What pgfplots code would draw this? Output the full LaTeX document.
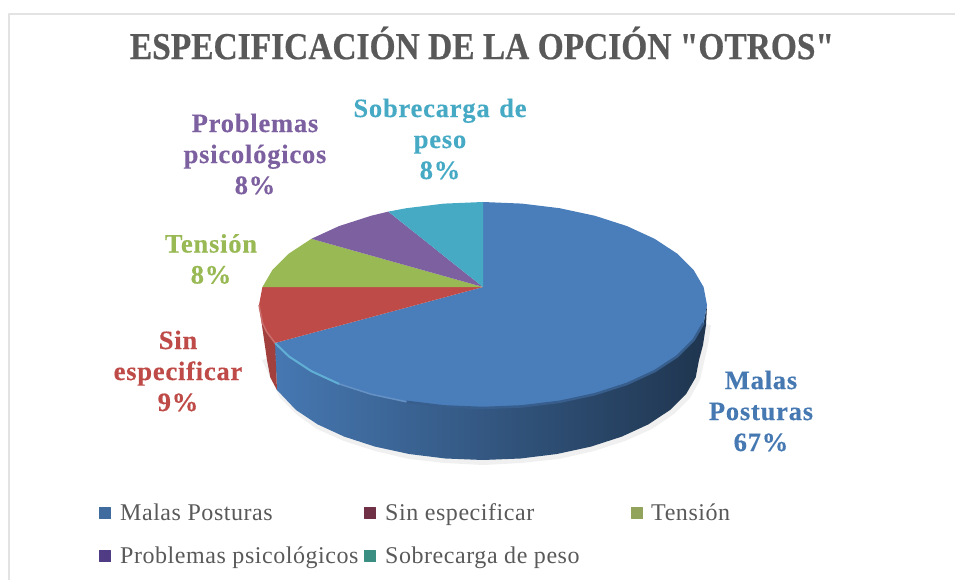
\documentclass[border=0pt]{standalone}
\usepackage{graphicx}
\usepackage{fontspec}
\setmainfont{Liberation Serif}
\newfontfamily\titlef[FakeBold=0.6]{Liberation Serif Bold}
\newfontfamily\labelf[LetterSpace=3,FakeBold=0.4,WordSpace=1.3]{Liberation Serif Bold}
\newfontfamily\legf[LetterSpace=2.3]{Liberation Serif}
\usepackage{pgfplots}
\pgfplotsset{compat=1.18}
\definecolor{cblue}{HTML}{4A7EBB}
\definecolor{cred}{HTML}{BE4B48}
\definecolor{cgreen}{HTML}{98B954}
\definecolor{cpurple}{HTML}{7D60A0}
\definecolor{cteal}{HTML}{46AAC5}
\begin{document}
\begin{tikzpicture}
\begin{axis}[
  width=955pt,height=580pt,scale only axis,
  xmin=0,xmax=955,ymin=0,ymax=580,y dir=reverse,
  axis line style={draw=none},ticks=none,clip=true,
  every axis plot/.append style={line join=round},
]
% frame
\addplot[color=black!11,line width=2pt,forget plot] coordinates {(9,580)(9,14)(955,14)};
% soft shadow
\addplot[fill=black!6,draw=none,forget plot] coordinates {(711,325)(708,345)(700,380)(690,398)(674,414)(652,429)(625,441)(594,451)(559,459)(521,463)(483,465)(445,463)(409,459)(375,451)(344,441)(317,429)(296,414)(280,398)(262,360)(483,300)} --cycle;
% side, blue
\addplot[left color=cblue!95!black,middle color=cblue!62!black,right color=cblue!42!black,shading angle=90,draw=none,forget plot] coordinates {
(707,305)(706,325)(703,345)(699,360)(695.7,377.4)(686,394.2)(670,410)(648.5,424.3)(621.8,436.6)(591,446.6)(556.9,454)(520.5,458.5)(483,460)(445.5,458.5)(409.1,454)(375,446.6)(344.2,436.6)(317.5,424.3)(296,410)(277,390)(275,343)
(289,356.5)(311.4,371.2)(339,383.9)(371,394.2)(406.4,401.8)(444.1,406.4)(483,408)(521.9,406.4)(559.6,401.8)(595,394.2)(627,383.9)(654.6,371.2)(677,356.5)(693.5,340.2)(703.6,322.9)} --cycle;
% side, red
\addplot[fill=cred!85!black,draw=none,forget plot] coordinates {
(259,305)(262.4,322.9)(266.6,331.7)(275,343)(277,390)(270.3,377.4)(267,360)} --cycle;
% top face
\addplot[fill=cblue,draw=none,forget plot] coordinates {
(483,287)(483,202)(521.9,203.6)(559.6,208.2)(595,215.8)(627,226.1)(654.6,238.8)(677,253.5)(693.5,269.8)(703.6,287.1)(707,305)(703.6,322.9)(693.5,340.2)(677,356.5)(654.6,371.2)(627,383.9)(595,394.2)(559.6,401.8)(521.9,406.4)(483,408)(444.1,406.4)(406.4,401.8)(371,394.2)(339,383.9)(311.4,371.2)(289,356.5)(275,343)} --cycle;
\addplot[fill=cred,draw=none,forget plot] coordinates {
(483,287)(275,343)(266.6,331.7)(262.4,322.9)(259,305)(262.4,287.1)} --cycle;
\addplot[fill=cgreen,draw=none,forget plot] coordinates {
(483,287)(262.4,287.1)(272.5,269.8)(289,253.5)(311.4,238.8)} --cycle;
\addplot[fill=cpurple,draw=none,forget plot] coordinates {
(483,287)(311.4,238.8)(339,226.1)(371,215.8)(388.3,211.6)} --cycle;
\addplot[fill=cteal,draw=none,forget plot] coordinates {
(483,287)(388.3,211.6)(406.4,208.2)(444.1,203.6)(483,202)} --cycle;
% rim: soft transition from top to side
\addplot[color=cblue!75!black,line width=2.5pt,forget plot] coordinates {(406.4,401.8)(444.1,406.4)(483,408)(521.9,406.4)(559.6,401.8)(595,394.2)(627,383.9)(654.6,371.2)(677,356.5)(693.5,340.2)(703.6,322.9)};
\addplot[color=cblue!85!white,line width=1.5pt,forget plot] coordinates {(339,383.9)(371,394.2)(406.4,401.8)};
\addplot[color=cblue!78!cyan!80!white,line width=2pt,forget plot] coordinates {(275,343)(289,356.5)(311.4,371.2)(339,383.9)};
\addplot[color=cred!80!white,line width=1.5pt,forget plot] coordinates {(259,305)(262.4,322.9)(266.6,331.7)(275,343)};
% legend keys
\addplot[only marks,mark=square*,mark size=5.5pt,color=cblue!85!black,forget plot] coordinates {(105,513)};
\addplot[only marks,mark=square*,mark size=5.5pt,color={rgb,255:red,112;green,48;blue,70},forget plot] coordinates {(370,513)};
\addplot[only marks,mark=square*,mark size=5.5pt,color={rgb,255:red,146;green,163;blue,92},forget plot] coordinates {(637,513)};
\addplot[only marks,mark=square*,mark size=5.5pt,color={rgb,255:red,80;green,60;blue,132},forget plot] coordinates {(105,556)};
\addplot[only marks,mark=square*,mark size=5.5pt,color={rgb,255:red,58;green,143;blue,130},forget plot] coordinates {(370,556)};
% title
\node[anchor=center,text=black!65] at (axis cs:482,43) {\scalebox{0.88}[1]{\fontsize{38}{38}\selectfont\titlef ESPECIFICACIÓN DE LA OPCIÓN "OTROS"}};
% data labels
\tikzset{lab/.style={align=center,font=\fontsize{26.5}{31}\selectfont\labelf}}
\node[lab,text=cblue!95!black] at (axis cs:761,411) {Malas\\Posturas\\67\%};
\node[lab,text=cred] at (axis cs:178,371) {Sin\\especificar\\9\%};
\node[lab,text=cgreen] at (axis cs:211,259) {Tensión\\8\%};
\node[lab,text=cpurple] at (axis cs:255,154) {Problemas\\psicológicos\\8\%};
\node[lab,text=cteal] at (axis cs:440,139) {Sobrecarga de\\peso\\8\%};
% legend labels
\tikzset{leg/.style={anchor=base west,inner sep=0pt,text=black!65,font=\fontsize{24}{24}\selectfont\legf}}
\node[leg] at (axis cs:120,520) {Malas Posturas};
\node[leg] at (axis cs:385,520) {Sin especificar};
\node[leg] at (axis cs:651,520) {Tensión};
\node[leg] at (axis cs:120,563) {Problemas psicológicos};
\node[leg] at (axis cs:385,563) {Sobrecarga de peso};
\end{axis}
\end{tikzpicture}
\end{document}
